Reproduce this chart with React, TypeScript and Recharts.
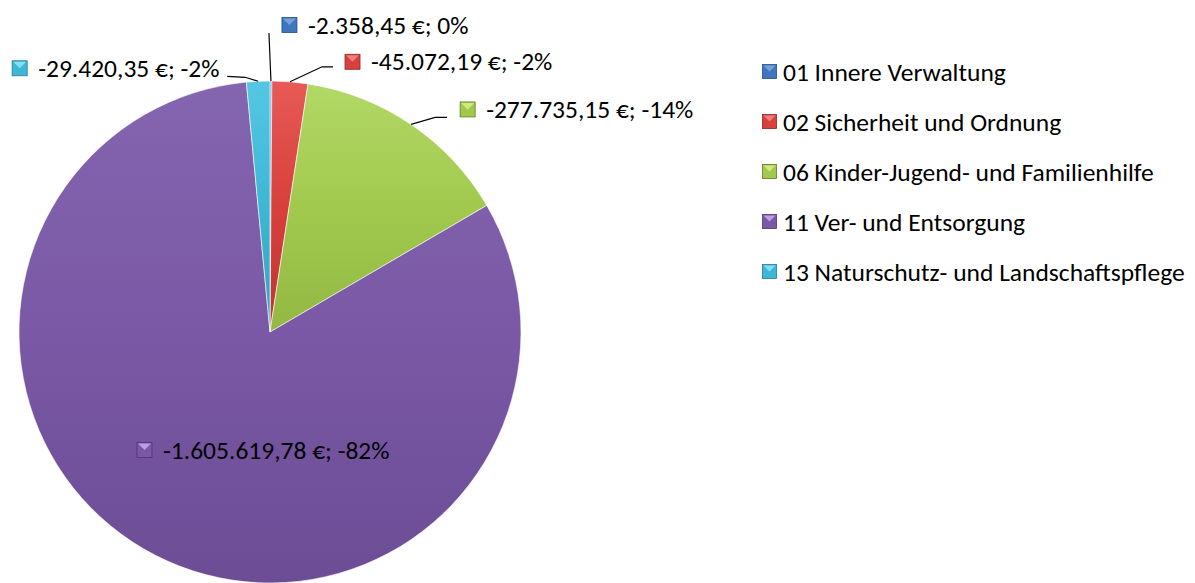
import React from 'react';
import { PieChart, Pie, Cell, Legend } from 'recharts';

// Teilergebnisse nach Produktbereich (negative Werte, wie im Original)
const categories = [
  '01 Innere Verwaltung',
  '02 Sicherheit und Ordnung',
  '06 Kinder-Jugend- und Familienhilfe',
  '11 Ver- und Entsorgung',
  '13 Naturschutz- und Landschaftspflege',
];
const amounts = [-2358.45, -45072.19, -277735.15, -1605619.78, -29420.35];

const colors = ['#3F76BE', '#D7403D', '#A2C94E', '#7A58A5', '#3DB7D5'];
const topColors = ['#5A8FD3', '#E85A55', '#B2D866', '#8465B0', '#55C7E3'];
const bottomColors = ['#33629F', '#BD3532', '#92B843', '#6C4D95', '#34A2BE'];
const markerLight = ['#7FA9E0', '#F08A86', '#D6F08A', '#C9A9F2', '#8FE6F7'];
const markerDark = ['#244E85', '#8E2523', '#5F7B25', '#4B3570', '#22798F'];

const FONT = 'Carlito, Lato, "Open Sans", sans-serif';
const FONT_SIZE = 25.5;

const data = categories.map((name, i) => ({ name, amount: amounts[i], size: Math.abs(amounts[i]) }));

// label placement: offsets from the slice's outer edge point (or from centre for the inside label)
const labelLayout: { from: 'edge' | 'center'; path: number[][]; mx: number; my: number }[] = [
  { from: 'edge', path: [[-2, -48]], mx: 11, my: -56 },
  { from: 'edge', path: [[32, -15], [43, -15]], mx: 55, my: -20 },
  { from: 'edge', path: [[24, -7], [36, -7]], mx: 49, my: -15 },
  { from: 'center', path: [], mx: -133, my: 118 },
  { from: 'edge', path: [[-13, -4], [-31, -5]], mx: -246, my: -13 },
];

const RAD = Math.PI / 180;

const formatEuro = (v: number) => {
  const neg = v < 0;
  const [intPart, dec] = Math.abs(v).toFixed(2).split('.');
  const withDots = intPart.replace(/\B(?=(\d{3})+(?!\d))/g, '.');
  return `${neg ? '-' : ''}${withDots},${dec} €`;
};

const formatPct = (p: number, v: number) => {
  const r = Math.round(p * 100);
  return r === 0 ? '0%' : `${v < 0 ? '-' : ''}${r}%`;
};

const Marker = ({ x, y, i, size = 15 }: { x: number; y: number; i: number; size?: number }) => (
  <g>
    <rect x={x} y={y} width={size} height={size} fill={colors[i]} stroke={markerDark[i]} strokeWidth={0.8} />
    <polygon
      points={`${x + 1},${y + 1} ${x + size - 1},${y + 1} ${x + size / 2},${y + size / 2}`}
      fill={markerLight[i]}
      opacity={0.85}
    />
  </g>
);

const renderLabel = (props: any) => {
  const { cx, cy, midAngle, outerRadius, index, percent } = props;
  const lay = labelLayout[index];
  const ex = cx + outerRadius * Math.cos(-midAngle * RAD);
  const ey = cy + outerRadius * Math.sin(-midAngle * RAD);
  const bx = lay.from === 'edge' ? ex : cx;
  const by = lay.from === 'edge' ? ey : cy;
  const mx = bx + lay.mx;
  const my = by + lay.my;
  const pts = [[ex, ey], ...lay.path.map(([dx, dy]) => [ex + dx, ey + dy])];
  const amount = data[index].amount;
  return (
    <g key={`lbl-${index}`}>
      {lay.path.length > 0 && (
        <polyline points={pts.map((p) => p.join(',')).join(' ')} fill="none" stroke="#000" strokeWidth={1.2} />
      )}
      <Marker x={mx} y={my - 7.5} i={index} />
      <text
        x={mx + 26}
        y={my}
        dominantBaseline="central"
        fontFamily={FONT}
        fontSize={FONT_SIZE}
        fill="#000"
      >
        {`${formatEuro(amount)}; ${formatPct(percent, amount)}`}
      </text>
    </g>
  );
};

const renderLegend = () => (
  <div style={{ fontFamily: FONT, fontSize: FONT_SIZE, color: '#000' }}>
    {categories.map((c, i) => (
      <div key={c} style={{ height: 50, display: 'flex', alignItems: 'center', whiteSpace: 'nowrap' }}>
        <svg width={15} height={16} style={{ marginRight: 6 }}>
          <Marker x={0.5} y={0.5} i={i} size={14} />
        </svg>
        <span>{c}</span>
      </div>
    ))}
  </div>
);

export default function App() {
  return (
    <div style={{ position: 'absolute', left: 0, top: 0, width: 1195, height: 583, background: '#fff' }}>
      <PieChart width={1195} height={583} margin={{ top: 0, right: 0, bottom: 0, left: 0 }}>
        <defs>
          {colors.map((c, i) => (
            <linearGradient key={c} id={`grad-${i}`} x1="0" y1="0" x2="0" y2="1">
              <stop offset="0%" stopColor={topColors[i]} />
              <stop offset="50%" stopColor={c} />
              <stop offset="100%" stopColor={bottomColors[i]} />
            </linearGradient>
          ))}
        </defs>
        <Pie
          data={data}
          dataKey="size"
          nameKey="name"
          cx={270}
          cy={332}
          outerRadius={251}
          startAngle={90}
          endAngle={-270}
          stroke="#fff"
          strokeWidth={0.6}
          label={renderLabel}
          labelLine={false}
          isAnimationActive={false}
        >
          {data.map((d, i) => (
            <Cell key={d.name} fill={`url(#grad-${i})`} />
          ))}
        </Pie>
        <Legend
          layout="vertical"
          align="right"
          verticalAlign="top"
          content={renderLegend}
          wrapperStyle={{ left: 762, top: 47, width: 433 }}
        />
      </PieChart>
    </div>
  );
}
